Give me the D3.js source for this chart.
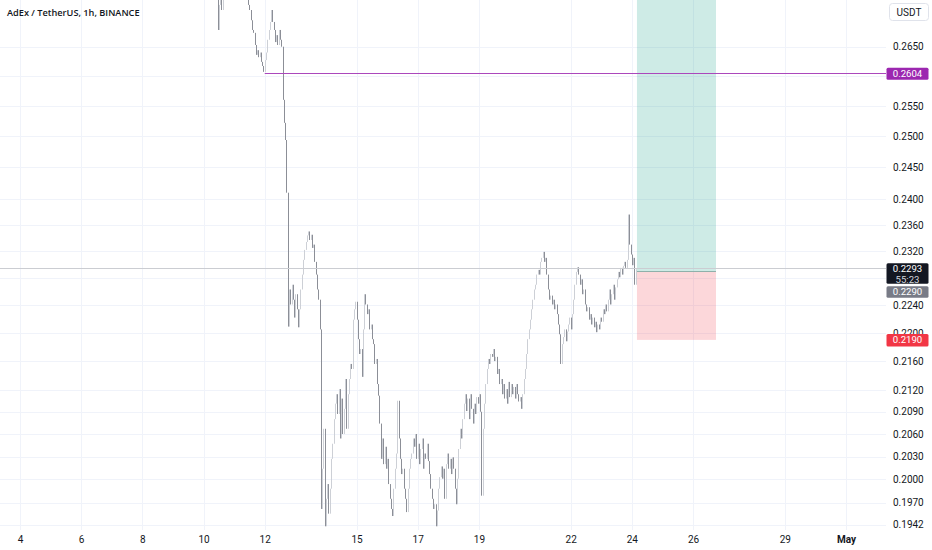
<!DOCTYPE html>
<html><head><meta charset="utf-8">
<script src="https://cdn.jsdelivr.net/npm/d3@7/dist/d3.min.js"></script>
<style>
html,body{margin:0;padding:0;background:#fff;}
svg{display:block;font-family:Roboto,"Noto Sans",sans-serif;}
</style></head><body>
<svg id="chart" width="932" height="550"></svg>
<script>
// ---------------- data ----------------
const title = "AdEx / TetherUS, 1h, BINANCE";
const currency = "USDT";
const firstCandleTime = "2024-04-10T10:00:00Z";
const firstOpen = 0.2740;
// hourly closes (open = previous close)
const closes = [
  0.2745,0.2679,0.2723,0.2748,0.2714,0.2742,
  0.2755,0.2768,0.2772,0.2790,0.2781,0.2768,0.2775,0.2790,0.2803,0.2795,0.2782,0.2770,0.2779,0.2765,0.2758,0.2770,0.2752,0.2747,0.2738,
  0.2723,0.2714,0.2696,0.2679,0.2674,0.2653,0.2636,0.2644,0.2632,0.2640,0.2624,0.2617,0.2607,0.2627,0.2640,0.2662,0.2679,0.2693,0.2714,0.2693,
  0.2679,0.2658,0.2670,0.2653,0.2679,0.2662,0.2650,0.2560,0.2522,0.2494,0.2410,0.2209,0.2263,0.2241,0.2270,0.2248,0.2222,0.2256,0.2234,0.2208,
  0.2234,0.2263,0.2285,0.2307,0.2322,0.2334,0.2344,0.2350,0.2337,0.2345,0.2325,0.2330,0.2304,0.2285,0.2263,0.2248,0.2205,0.1962,0.2014,0.2067,
  0.1940,0.1975,0.1994,0.1956,0.1988,0.2027,0.2047,0.2080,0.2101,0.2114,0.2087,0.2121,0.2054,0.2108,0.2060,0.2094,0.2135,0.2067,0.2114,0.2135,
  0.2156,0.2149,0.2219,0.2234,0.2245,0.2219,0.2191,0.2170,0.2177,0.2138,0.2205,0.2256,0.2241,0.2227,0.2234,0.2205,0.2212,0.2191,0.2184,0.2156,
  0.2163,0.2128,0.2112,0.2074,0.2027,0.2054,0.2020,0.2043,0.2014,0.2027,0.1994,0.1975,0.1962,0.1953,0.1988,0.2014,0.2034,0.2105,0.2054,0.2027,
  0.2007,0.2014,0.1988,0.1975,0.1958,0.1988,0.2014,0.2027,0.2034,0.2054,0.2043,0.2060,0.2027,0.2047,0.2020,0.2040,0.2054,0.2014,0.2034,0.2027,
  0.2047,0.2024,0.2007,0.1988,0.1975,0.1962,0.1968,0.1940,0.1960,0.1988,0.2003,0.2017,0.2001,0.2014,0.1975,0.2020,0.2034,0.2014,0.2027,0.2007,
  0.2029,0.2014,0.1988,0.1968,0.2001,0.2040,0.2067,0.2054,0.2080,0.2101,0.2114,0.2091,0.2108,0.2080,0.2114,0.2094,0.2074,0.2101,0.2087,0.2110,
  0.2101,0.2114,0.2090,0.1979,0.2067,0.2101,0.2128,0.2149,0.2163,0.2156,0.2170,0.2166,0.2177,0.2160,0.2166,0.2142,0.2149,0.2128,0.2135,0.2114,
  0.2128,0.2108,0.2121,0.2101,0.2131,0.2110,0.2128,0.2114,0.2124,0.2108,0.2128,0.2114,0.2104,0.2110,0.2094,0.2114,0.2135,0.2149,0.2170,0.2191,
  0.2205,0.2219,0.2234,0.2248,0.2263,0.2270,0.2285,0.2292,0.2285,0.2304,0.2310,0.2319,0.2304,0.2310,0.2285,0.2263,0.2248,0.2254,0.2241,0.2248,
  0.2234,0.2241,0.2227,0.2212,0.2198,0.2156,0.2184,0.2194,0.2205,0.2188,0.2202,0.2212,0.2222,0.2205,0.2227,0.2248,0.2270,0.2289,0.2296,0.2285,
  0.2270,0.2278,0.2256,0.2263,0.2241,0.2231,0.2237,0.2219,0.2227,0.2212,0.2222,0.2208,0.2216,0.2201,0.2212,0.2205,0.2222,0.2216,0.2234,0.2227,
  0.2241,0.2231,0.2248,0.2263,0.2241,0.2256,0.2270,0.2248,0.2266,0.2278,0.2289,0.2281,0.2295,0.2285,0.2298,0.2304,0.2295,0.2307,0.2376,0.2330,
  0.2315,0.2299,0.2310,0.2270,0.2293
];
// labelled price ticks, plus grid-only ticks hidden behind the price labels
const priceTicks = [0.2650,0.2550,0.2500,0.2450,0.2400,0.2360,0.2320,0.2240,0.2200,0.2160,0.2120,0.2090,0.2060,0.2030,0.2000,0.1970,0.1942];
const coveredTicks = [0.2600,0.2280];
const timeTicks = ["2024-04-04","2024-04-06","2024-04-08","2024-04-10","2024-04-12","2024-04-15","2024-04-17","2024-04-19","2024-04-22","2024-04-24","2024-04-26","2024-04-29","2024-05-01"];
const timeTickLabels = ["4","6","8","10","12","15","17","19","22","24","26","29","May"];
const alertPrice = 0.2604;
const alertStart = "2024-04-12T00:00:00Z";
const lastPrice = 0.2293;
const countdown = "55:23";
const entryPrice = 0.2290;
const stopPrice = 0.2190;
const targetPrice = 0.2850;
const positionStart = "2024-04-24T04:00:00Z";
const positionEnd = "2024-04-26T18:00:00Z";

// ---------------- layout ----------------
const plotRight = 886, plotBottom = 530;
const svg = d3.select("#chart");
const x = d3.scaleUtc()
  .domain([new Date("2024-04-04T00:00:00Z"), new Date("2024-05-01T00:00:00Z")])
  .range([20, 846]);
const y = d3.scaleLog().domain([0.2650, 0.1942]).range([46.7, 524.7]);
const crisp = v => Math.round(v) + 0.5;

svg.append("defs").append("clipPath").attr("id","plotclip")
  .append("rect").attr("x",0).attr("y",0).attr("width",plotRight).attr("height",plotBottom);

// grid
const grid = svg.append("g");
grid.selectAll("line.h").data(priceTicks.concat(coveredTicks)).join("line")
  .attr("x1",0).attr("x2",plotRight)
  .attr("y1",d=>crisp(y(d))).attr("y2",d=>crisp(y(d)))
  .attr("stroke","#f0f3fa").attr("stroke-width",1);
grid.selectAll("line.v").data(timeTicks).join("line")
  .attr("x1",d=>crisp(x(new Date(d+"T00:00:00Z")))).attr("x2",d=>crisp(x(new Date(d+"T00:00:00Z"))))
  .attr("y1",0).attr("y2",plotBottom)
  .attr("stroke","#f0f3fa").attr("stroke-width",1);

const plot = svg.append("g").attr("clip-path","url(#plotclip)");

// position tool
const px0 = x(new Date(positionStart)), px1 = x(new Date(positionEnd));
plot.append("rect").attr("x",px0).attr("width",px1-px0)
  .attr("y",y(targetPrice)).attr("height",y(entryPrice)-y(targetPrice))
  .attr("fill","rgba(8,153,129,0.2)");
plot.append("rect").attr("x",px0).attr("width",px1-px0)
  .attr("y",y(entryPrice)).attr("height",y(stopPrice)-y(entryPrice))
  .attr("fill","rgba(242,54,69,0.2)");
plot.append("line").attr("x1",px0).attr("x2",px1)
  .attr("y1",crisp(y(entryPrice))).attr("y2",crisp(y(entryPrice)))
  .attr("stroke","#8fb0aa").attr("stroke-width",1);

// candles
const t0 = new Date(firstCandleTime);
const candles = closes.map((c,i)=>{
  const o = i===0 ? firstOpen : closes[i-1];
  return {t: d3.utcHour.offset(t0, i), o, c};
});
plot.selectAll("rect.c").data(candles).join("rect")
  .attr("x",d=>Math.round(x(d.t)))
  .attr("width",1)
  .attr("y",d=>y(Math.max(d.o,d.c)))
  .attr("height",d=>Math.max(1, y(Math.min(d.o,d.c))-y(Math.max(d.o,d.c))))
  .attr("fill",d=>d.c>=d.o ? "#cdd0d6" : "#8c8f97");

// alert line
plot.append("line")
  .attr("x1",x(new Date(alertStart))).attr("x2",plotRight)
  .attr("y1",crisp(y(alertPrice))-1).attr("y2",crisp(y(alertPrice))-1)
  .attr("stroke","#ab47bc").attr("stroke-width",1.2);

// last price line
plot.append("line")
  .attr("x1",0).attr("x2",plotRight)
  .attr("y1",crisp(y(lastPrice))-1).attr("y2",crisp(y(lastPrice))-1)
  .attr("stroke","#cbcdd2").attr("stroke-width",1);

// right axis
const yAxis = d3.axisRight(y).tickValues(priceTicks).tickFormat(d3.format(".4f")).tickSize(0).tickPadding(7);
const ya = svg.append("g").attr("transform",`translate(${plotRight},0)`).call(yAxis);
ya.select(".domain").remove();
ya.selectAll("text").attr("font-size",10).attr("fill","#131722").attr("font-family","Roboto, sans-serif");

// bottom axis
const xAxis = d3.axisBottom(x).tickValues(timeTicks.map(d=>new Date(d+"T00:00:00Z")))
  .tickFormat((d,i)=>timeTickLabels[i]).tickSize(0).tickPadding(6);
const xa = svg.append("g").attr("transform",`translate(0,${plotBottom})`).call(xAxis);
xa.select(".domain").remove();
xa.selectAll("text").attr("font-size",10).attr("fill","#131722").attr("font-family","Roboto, sans-serif")
  .attr("font-weight",(d,i)=>timeTickLabels[i]==="May"?700:400);

// price label boxes
function priceBox(top, h, fill, lines, colors){
  const g = svg.append("g");
  g.append("rect").attr("x",886.5).attr("y",top).attr("width",42).attr("height",h).attr("rx",1.5).attr("fill",fill);
  lines.forEach((t,k)=>{
    g.append("text").attr("x",907.5).attr("y",top+5.8+k*10.4).attr("dy","0.35em")
      .attr("text-anchor","middle").attr("font-size",9.6).attr("fill",colors[k]).text(t);
  });
}
priceBox(y(alertPrice)-6, 12, "#9c27b0", [d3.format(".4f")(alertPrice)], ["#ffffff"]);
const lastTop = y(lastPrice)-6;
priceBox(lastTop, 20.5, "#131722", [d3.format(".4f")(lastPrice), countdown], ["#ffffff","#d1d4dc"]);
priceBox(lastTop+23, 11.5, "#787b86", [d3.format(".4f")(entryPrice)], ["#ffffff"]);
priceBox(y(stopPrice)-6, 12.5, "#f23645", [d3.format(".4f")(stopPrice)], ["#ffffff"]);

// currency box
svg.append("rect").attr("x",889.5).attr("y",3.5).attr("width",39).attr("height",17).attr("rx",3)
  .attr("fill","#fff").attr("stroke","#e0e3eb");
svg.append("text").attr("x",909).attr("y",12.5).attr("dy","0.35em").attr("text-anchor","middle")
  .attr("font-size",10).attr("fill","#131722").text(currency);

// title
svg.append("text").attr("x",7).attr("y",15.5).attr("font-size",9.2).attr("font-weight",600)
  .attr("font-family","'Open Sans', sans-serif").attr("fill","#131722").text(title);
</script>
</body></html>
